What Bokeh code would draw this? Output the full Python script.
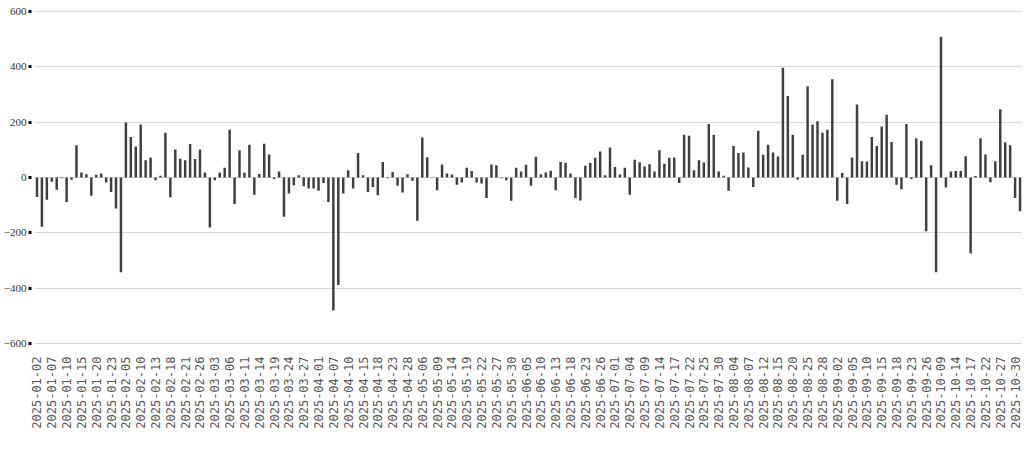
import math
from bokeh.plotting import figure
from bokeh.models import ColumnDataSource, FixedTicker, Range1d, Legend, LegendItem
from bokeh.embed import file_html
from bokeh.resources import INLINE

# ---- data ----
year = 2025
trading_days = {
    1: [2, 3, 6, 7, 8, 9, 10, 13, 14, 15, 16, 17, 20, 21, 22, 23, 24, 27],
    2: [5, 6, 7, 10, 11, 12, 13, 14, 17, 18, 19, 20, 21, 24, 25, 26, 27, 28],
    3: [3, 4, 5, 6, 7, 10, 11, 12, 13, 14, 17, 18, 19, 20, 21, 24, 25, 26, 27, 28, 31],
    4: [1, 2, 3, 7, 8, 9, 10, 11, 14, 15, 16, 17, 18, 21, 22, 23, 24, 25, 28, 29, 30],
    5: [6, 7, 8, 9, 12, 13, 14, 15, 16, 19, 20, 21, 22, 23, 26, 27, 28, 29, 30],
    6: [3, 4, 5, 6, 9, 10, 11, 12, 13, 16, 17, 18, 19, 20, 23, 24, 25, 26, 27, 30],
    7: [1, 2, 3, 4, 7, 8, 9, 10, 11, 14, 15, 16, 17, 18, 21, 22, 23, 24, 25, 28, 29, 30, 31],
    8: [1, 4, 5, 6, 7, 8, 11, 12, 13, 14, 15, 18, 19, 20, 21, 22, 25, 26, 27, 28, 29],
    9: [1, 2, 3, 4, 5, 8, 9, 10, 11, 12, 15, 16, 17, 18, 19, 22, 23, 24, 25, 26, 29, 30],
    10: [9, 10, 13, 14, 15, 16, 17, 20, 21, 22, 23, 24, 27, 28, 29, 30, 31],
}

# net buying, 100 million yuan, one value per trading day (in order)
net_buy_part1 = [
    -70, -178, -80, -15, -44, -3, -88, -8, 116, 18, 12, -66, 10, 14, -18, -52, -112, -342,
    198, 146, 112, 191, 62, 72, -10, 6, 161, -71, 101, 68, 62, 121, 67, 101, 18, -180,
]
net_buy_part2 = [
    -10, 18, 35, 172, -96, 98, 17, 118, -62, 13, 122, 83, -5, 22, -142, -58, -28, 8, -32, -40, -40,
    -48, -20, -88, -480, -388, -58, 26, -40, 88, 8, -52, -34, -64, 56, -3, 20, -30, -54, 12, -12, -156,
]
net_buy_part3 = [
    144, 73, 2, -46, 47, 14, 11, -26, -18, 35, 23, -18, -22, -74, 47, 44, -3, -10, -84,
    35, 22, 46, -30, 75, 12, 18, 24, -46, 56, 53, 14, -74, -83, 42, 52, 71, 94, 8, 108, 38,
]
net_buy_part4 = [
    11, 35, -62, 64, 55, 40, 48, 22, 98, 50, 71, 72, -20, 154, 151, 26, 62, 54, 193, 154, 22, 6,
    -48, 114, 88, 90, 36, -34, 169, 82, 118, 90, 76, 396, 294, 154, -8, 82, 329, 191, 203, 161, 172,
]
net_buy_part5 = [
    354, -84, 16, -96, 72, 263, 59, 58, 146, 114, 184, 226, 128, -26, -42, 193, -5, 142, 133, -194, 44, -342,
    508, -36, 22, 23, 23, 77, -274, 5, 142, 83, -17, 59, 246, 127, 116, -74, -122,
]

y_ticks = [-600, -400, -200, 0, 200, 400, 600]
label_every = 3
series_name = "融资(频率:日)~期间净买入额(亿元)"

# ---- build ----
dates = [f"{year}-{m:02d}-{d:02d}" for m in sorted(trading_days) for d in trading_days[m]]
values = net_buy_part1 + net_buy_part2 + net_buy_part3 + net_buy_part4 + net_buy_part5
n = min(len(dates), len(values))
dates, values = dates[:n], values[:n]
xs = list(range(n))

src = ColumnDataSource(dict(x=xs, v=values, d=dates))

p = figure(
    frame_width=988, frame_height=336,
    x_range=Range1d(-0.5, n - 0.5),
    y_range=Range1d(-606, 606),
    output_backend="svg", toolbar_location=None,
    min_border_top=9, min_border_right=0, min_border_left=0, min_border_bottom=110,
)
p.outline_line_color = None
p.background_fill_color = "white"
p.border_fill_color = "white"

r = p.vbar(x="x", top="v", bottom=0, width=0.5, source=src,
           fill_color="#3f3f3f", line_color=None)

# grid
p.xgrid.grid_line_color = None
p.ygrid.grid_line_color = "#d9d9d9"
p.ygrid.grid_line_width = 1

# y axis
p.yaxis.ticker = FixedTicker(ticks=y_ticks)
p.yaxis.axis_line_color = None
p.yaxis.minor_tick_line_color = None
p.yaxis.major_tick_in = -3
p.yaxis.major_tick_out = 6
p.yaxis.major_tick_line_width = 3
p.yaxis.major_tick_line_color = "#000000"
p.yaxis.major_label_standoff = 2
p.yaxis.major_label_text_font = "Liberation Sans Narrow"
p.yaxis.major_label_text_font_size = "11px"
p.yaxis.major_label_text_color = "#333333"

# x axis
tick_pos = list(range(0, n, label_every))
p.xaxis.ticker = FixedTicker(ticks=tick_pos)
p.xaxis.major_label_overrides = {i: dates[i] for i in tick_pos}
p.xaxis.major_label_orientation = math.pi / 2
p.xaxis.axis_line_color = None
p.xaxis.major_tick_line_color = None
p.xaxis.minor_tick_line_color = None
p.xaxis.major_tick_out = 0
p.xaxis.major_tick_in = 0
p.xaxis.major_label_standoff = 11
p.xaxis.major_label_text_font = "DejaVu Sans Mono"
p.xaxis.major_label_text_font_size = "12px"
p.xaxis.major_label_text_color = "#555555"

# legend (drawn below the axis labels, inside the bottom border)
legend = Legend(items=[LegendItem(label=series_name, renderers=[r])],
                location=(416, -105), orientation="horizontal",
                label_text_font="Noto Sans CJK SC", label_text_font_size="10px",
                label_text_color="#333333", label_height=12,
                glyph_width=6, glyph_height=8, label_standoff=3,
                padding=0, margin=0, spacing=0,
                border_line_color=None, background_fill_alpha=0)
p.add_layout(legend)

open("out.html", "w").write(file_html(p, INLINE))
